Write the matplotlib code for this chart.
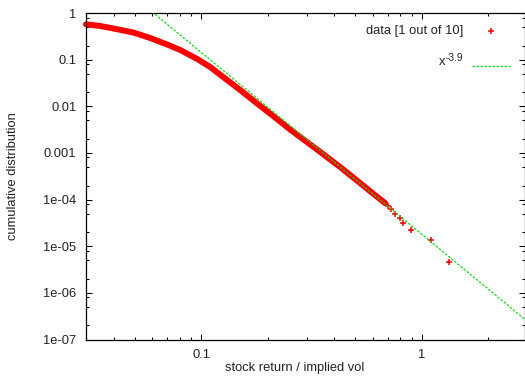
import numpy as np
import matplotlib
matplotlib.use('Agg')
import matplotlib.pyplot as plt
from matplotlib.ticker import FixedLocator, FixedFormatter, NullFormatter

plt.rcParams['font.family'] = ['Liberation Sans', 'DejaVu Sans']
plt.rcParams['font.size'] = 9.3

# cumulative distribution of |return| / implied vol, every 10th sample
# dense part (points overlap into a solid band)
ret_dense = [0.030, 0.0349, 0.040, 0.0492, 0.0587, 0.0701, 0.0803, 0.0959,
             0.1098, 0.1258, 0.1502, 0.1793, 0.2164, 0.2531, 0.3354, 0.4265,
             0.5089, 0.6016, 0.682]
cdf_dense = [0.572, 0.526, 0.465, 0.3815, 0.2907, 0.2109, 0.1607, 0.1030,
             0.0694, 0.0423, 0.02227, 0.01143, 0.00572, 0.00316, 0.001177,
             0.000496, 0.0002544, 0.0001338, 8.37e-5]
# isolated points in the far tail
ret_tail = [0.7034, 0.726, 0.757, 0.797, 0.825, 0.890, 1.102, 1.329]
cdf_tail = [7.2e-5, 6.2e-5, 5.0e-5, 4.05e-5, 3.15e-5, 2.25e-5, 1.35e-5, 4.5e-6]

# power law fit  A * x^-3.9
fit_exp = -3.9
fit_amp = 1.8e-5

x_range = (0.03, 2.92)
y_range = (1e-7, 1.0)

x_ticks = [0.1, 1]
x_labels = ['0.1', '1']
y_ticks = [1, 0.1, 0.01, 0.001, 1e-4, 1e-5, 1e-6, 1e-7]
y_labels = ['1', '0.1', '0.01', '0.001', '1e-04', '1e-05', '1e-06', '1e-07']

W, H = 525, 380
left, right, top, bottom = 86, 524.5, 13, 339.5

fig = plt.figure(figsize=(W / 100, H / 100), dpi=100)
ax = fig.add_axes([left / W, 1 - bottom / H, (right - left) / W, (bottom - top) / H])


def px_axes(px, py):
    """pixel position -> axes fraction"""
    return (px - left) / (right - left), (bottom - py) / (bottom - top)


ax.set_xscale('log')
ax.set_yscale('log')
ax.set_xlim(*x_range)
ax.set_ylim(*y_range)

red = '#ff0000'
green = '#14d814'

ax.plot(ret_dense, cdf_dense, color=red, lw=4.3, solid_capstyle='round',
        solid_joinstyle='round', clip_on=False, zorder=2)
ax.plot(ret_tail, cdf_tail, ls='none', marker='+', ms=5, mew=1.1, color=red, zorder=2)

fit_x = np.array(x_range)
ax.plot(fit_x, fit_amp * fit_x ** fit_exp, color=green, lw=0.9, dashes=(2, 1.2), zorder=3)

# ticks on all four sides, pointing inward
ax.xaxis.set_major_locator(FixedLocator(x_ticks))
ax.xaxis.set_major_formatter(FixedFormatter(x_labels))
ax.yaxis.set_major_locator(FixedLocator(y_ticks))
ax.yaxis.set_major_formatter(FixedFormatter(y_labels))
x_minor = [m * d for d in (0.01, 0.1, 1) for m in range(2, 10)]
y_minor = [m * 10.0 ** e for e in range(-7, 0) for m in (2, 5, 8)]
ax.xaxis.set_minor_locator(FixedLocator(x_minor))
ax.yaxis.set_minor_locator(FixedLocator(y_minor))
ax.xaxis.set_minor_formatter(NullFormatter())
ax.yaxis.set_minor_formatter(NullFormatter())
ax.tick_params(which='both', direction='in', top=True, right=True, width=0.75,
               colors='black', labelsize=9.3, labelcolor='#222222')
ax.tick_params(which='major', length=4.0)
ax.tick_params(which='minor', length=2.3)
ax.tick_params(axis='y', pad=7)
ax.tick_params(axis='x', pad=7)
for s in ax.spines.values():
    s.set_linewidth(0.9)

ax.set_xlabel('stock return / implied vol', color='#222222', va='center')
ax.xaxis.set_label_coords(*px_axes(295, 368))
ax.set_ylabel('cumulative distribution', color='#222222', va='center')
ax.yaxis.set_label_coords(*px_axes(13, 176))

# key, top right
tx, ty = px_axes(463, 31)
ax.text(tx, ty, 'data [1 out of 10]', transform=ax.transAxes, ha='right', va='center',
        color='#222222')
mx, my = px_axes(491, 30.7)
ax.plot([mx], [my], transform=ax.transAxes, marker='+', ms=5, mew=1.1, color=red,
        clip_on=False)
xx, xy = px_axes(445, 65)
ax.text(xx, xy, 'x', transform=ax.transAxes, ha='right', va='baseline', color='#222222')
sx, sy = px_axes(463.5, 61)
ax.text(sx, sy, '-3.9', transform=ax.transAxes, ha='right', va='baseline', fontsize=7.3,
        color='#222222')
l0x, ly = px_axes(472, 66)
l1x, _ = px_axes(510, 66)
ax.plot([l0x, l1x], [ly, ly], transform=ax.transAxes, color=green, lw=0.9,
        dashes=(2, 1.2), clip_on=False)

fig.savefig('out.png', dpi=100)
